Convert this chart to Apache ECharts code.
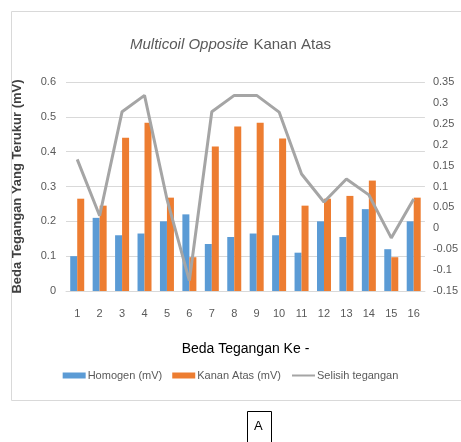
<!DOCTYPE html>
<html>
<head>
<meta charset="utf-8">
<script src="https://cdn.jsdelivr.net/npm/echarts@6/dist/echarts.min.js"></script>
<style>
  html, body { margin: 0; padding: 0; background: #fff; }
  #chart { width: 461px; height: 442px; }
</style>
</head>
<body>
<div id="chart"></div>
<script>
// data
const categories = ['1', '2', '3', '4', '5', '6', '7', '8', '9', '10', '11', '12', '13', '14', '15', '16']
const homogen = [0.10, 0.21, 0.16, 0.165, 0.20, 0.22, 0.135, 0.155, 0.165, 0.16, 0.11, 0.20, 0.155, 0.235, 0.12, 0.20]
const kananAtas = [0.265, 0.245, 0.44, 0.483, 0.268, 0.097, 0.415, 0.472, 0.483, 0.438, 0.245, 0.265, 0.273, 0.317, 0.097, 0.268]
const selisih = [0.165, 0.03, 0.279, 0.318, 0.07, -0.125, 0.279, 0.318, 0.318, 0.278, 0.13, 0.063, 0.118, 0.08, -0.023, 0.07]

const chart = echarts.init(document.getElementById('chart'))
const fontFamily = '"Liberation Sans", "Open Sans", sans-serif'

chart.setOption({
  animation: false,
  textStyle: { fontFamily: fontFamily },
  title: {
    text: '{i|Multicoil Opposite} {n|Kanan Atas}',
    left: 'center',
    top: 31,
    textStyle: {
      rich: {
        i: { fontSize: 15, fontStyle: 'italic', fontWeight: 'normal', color: '#595959', fontFamily: fontFamily },
        n: { fontSize: 15, fontWeight: 'normal', color: '#595959', fontFamily: fontFamily }
      }
    }
  },
  graphic: [
    {
      type: 'rect',
      shape: { x: 11.5, y: 11.5, width: 470, height: 389 },
      style: { fill: 'none', stroke: '#d9d9d9', lineWidth: 1 }
    },
    {
      type: 'rect',
      shape: { x: 247.5, y: 411.5, width: 24, height: 40 },
      style: { fill: '#fff', stroke: '#000', lineWidth: 1 }
    },
    {
      type: 'text',
      left: 254,
      top: 420,
      style: { text: 'A', fontSize: 13, fill: '#000', fontFamily: fontFamily }
    }
  ],
  legend: {
    bottom: 56,
    left: 'center',
    itemWidth: 23,
    itemHeight: 6,
    itemGap: 10,
    textStyle: { fontSize: 11, color: '#595959', padding: [0, 0, 0, -3] },
    data: [
      { name: 'Homogen (mV)', icon: 'rect' },
      { name: 'Kanan Atas (mV)', icon: 'rect' },
      { name: 'Selisih tegangan', itemStyle: { opacity: 0 } }
    ]
  },
  grid: {
    left: 66,
    right: 34,
    top: 82,
    bottom: 151
  },
  xAxis: {
    type: 'category',
    data: categories,
    name: 'Beda Tegangan Ke -',
    nameLocation: 'middle',
    nameGap: 51,
    nameTextStyle: { fontSize: 14, color: '#000' },
    axisLine: { lineStyle: { color: '#d9d9d9' } },
    axisTick: { show: false },
    axisLabel: { fontSize: 11, color: '#595959', margin: 17 }
  },
  yAxis: [
    {
      type: 'value',
      min: 0,
      max: 0.6,
      interval: 0.1,
      name: 'Beda Tegangan Yang Terukur (mV)',
      nameLocation: 'middle',
      nameGap: 42,
      nameTextStyle: { fontSize: 13, fontWeight: 'bold', color: '#404040' },
      axisLine: { show: false },
      axisTick: { show: false },
      axisLabel: { fontSize: 11, color: '#595959', margin: 10 },
      splitLine: { lineStyle: { color: '#d9d9d9' } }
    },
    {
      type: 'value',
      min: -0.15,
      max: 0.35,
      interval: 0.05,
      axisLine: { show: false },
      axisTick: { show: false },
      axisLabel: { fontSize: 11, color: '#595959', margin: 8 },
      splitLine: { show: false }
    }
  ],
  series: [
    {
      name: 'Homogen (mV)',
      type: 'bar',
      data: homogen,
      barWidth: 7,
      barGap: '0%',
      itemStyle: { color: '#5B9BD5' }
    },
    {
      name: 'Kanan Atas (mV)',
      type: 'bar',
      data: kananAtas,
      barWidth: 7,
      itemStyle: { color: '#ED7D31' }
    },
    {
      name: 'Selisih tegangan',
      type: 'line',
      yAxisIndex: 1,
      data: selisih,
      symbol: 'none',
      lineStyle: { color: '#A5A5A5', width: 3 },
      itemStyle: { color: '#A5A5A5' }
    }
  ]
})
</script>
</body>
</html>
